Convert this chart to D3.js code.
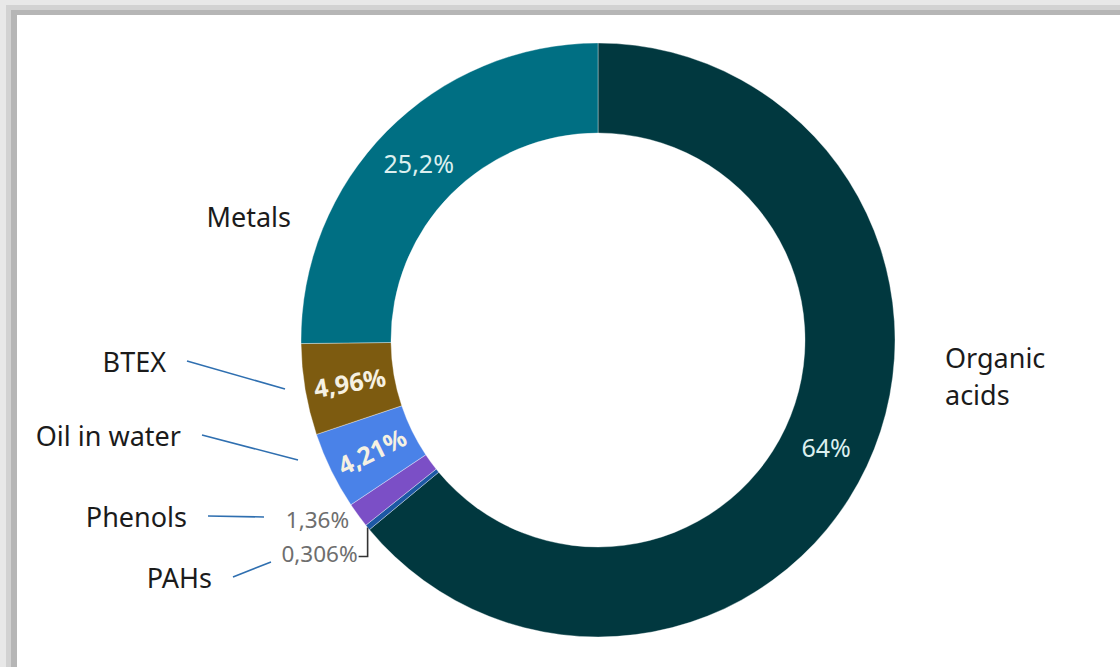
<!DOCTYPE html>
<html>
<head>
<meta charset="utf-8">
<script src="https://cdn.jsdelivr.net/npm/d3@7"></script>
<style>
  html, body { margin: 0; padding: 0; background: #e6e6e6; }
  svg { display: block; }
</style>
</head>
<body>
<svg id="chart" width="1120" height="667"></svg>
<script>
// Share of each contaminant group (%), drawn clockwise from 12 o'clock
const categories = ["Organic acids", "PAHs", "Phenols", "Oil in water", "BTEX", "Metals"];
const values = [64, 0.306, 1.36, 4.21, 4.96, 25.2];
const colors = ["#01383f", "#1c58a4", "#7b4fc6", "#4a82e8", "#7d5b10", "#006f83"];

// Placement of the category captions (text anchor, baseline) and leader endpoints
const captionLayout = {
  "Organic acids": { x: 945, y: 368, anchor: "start", lines: ["Organic", "acids"] },
  "Metals":        { x: 291, y: 227, anchor: "end" },
  "BTEX":          { x: 166, y: 372, anchor: "end", leader: [285, 389] },
  "Oil in water":  { x: 181, y: 446, anchor: "end", leader: [298, 460] },
  "Phenols":       { x: 187, y: 527, anchor: "end", leader: [264, 517] },
  "PAHs":          { x: 212, y: 588, anchor: "end", leader: [271, 562] }
};

const W = 1120, H = 667;
const cx = 598, cy = 340, rOuter = 297, rInner = 207;

const svg = d3.select("#chart");

// Frame around the white panel
svg.append("rect").attr("x", 0).attr("y", 0).attr("width", W).attr("height", H).attr("fill", "#e8e8e8");
svg.append("rect").attr("x", 6).attr("y", 5).attr("width", W).attr("height", H).attr("fill", "#d2d2d2");
svg.append("rect").attr("x", 11).attr("y", 10).attr("width", W).attr("height", H).attr("fill", "#b6b6b6");
svg.append("rect").attr("x", 17).attr("y", 15).attr("width", W).attr("height", H).attr("fill", "#ffffff");

const locale = d3.formatLocale({ decimal: ",", thousands: ".", grouping: [3], currency: ["", "€"] });
const fmt = v => locale.format(".3~r")(v) + "%";

const data = categories.map((c, i) => ({ name: c, value: values[i], color: colors[i] }));

const pie = d3.pie().sort(null).value(d => d.value).startAngle(0).endAngle(2 * Math.PI);
const arcs = pie(data);

const arc = d3.arc().innerRadius(rInner).outerRadius(rOuter);
const labelArc = d3.arc().innerRadius(252).outerRadius(252);

const g = svg.append("g").attr("transform", `translate(${cx},${cy})`);

g.selectAll("path.slice")
  .data(arcs)
  .join("path")
  .attr("class", "slice")
  .attr("d", arc)
  .attr("fill", d => d.data.color)
  .attr("stroke", "#ffffff")
  .attr("stroke-opacity", 0.45)
  .attr("stroke-width", 0.8);

const fontFamily = "'Noto Sans', 'Open Sans', sans-serif";

// Value labels inside the ring
const inside = arcs.filter(d => d.data.value >= 2);
g.selectAll("text.inner")
  .data(inside)
  .join("text")
  .attr("class", "inner")
  .attr("transform", d => {
    const [x, y] = labelArc.centroid(d);
    const mid = (d.startAngle + d.endAngle) / 2;
    const small = d.data.value < 10;
    const rot = small ? mid * 180 / Math.PI - 270 : 0;
    return `translate(${x},${y}) rotate(${rot})`;
  })
  .attr("text-anchor", "middle")
  .attr("dominant-baseline", "central")
  .attr("font-family", fontFamily)
  .attr("font-size", 25)
  .attr("font-weight", d => d.data.value < 10 ? 700 : 400)
  .attr("fill", d => d.data.value < 10 ? "#f6f1e2" : "#dcefef")
  .text(d => fmt(d.data.value));

// Value labels outside the ring for the two thinnest slices
const outer = arcs.filter(d => d.data.value < 2);
const polar = (r, a) => [r * Math.sin(a), -r * Math.cos(a)];

outer.forEach(d => {
  const mid = (d.startAngle + d.endAngle) / 2;
  const [px, py] = polar(rOuter, mid);
  if (d.data.name === "Phenols") {
    g.append("text")
      .attr("x", px - 9).attr("y", py + 13)
      .attr("text-anchor", "end")
      .attr("font-family", fontFamily)
      .attr("font-size", 22.5)
      .attr("fill", "#6e6e6e")
      .text(fmt(d.data.value));
  } else {
    g.append("polyline")
      .attr("points", [[px, py], [px, py + 29], [px - 9, py + 29]].map(p => p.join(",")).join(" "))
      .attr("fill", "none")
      .attr("stroke", "#333333")
      .attr("stroke-width", 1.6);
    g.append("text")
      .attr("x", px - 10).attr("y", py + 35)
      .attr("text-anchor", "end")
      .attr("font-family", fontFamily)
      .attr("font-size", 22.5)
      .attr("fill", "#6e6e6e")
      .text(fmt(d.data.value));
  }
});

// Category captions with leader lines
arcs.forEach(d => {
  const L = captionLayout[d.data.name];
  const t = svg.append("text")
    .attr("x", L.x).attr("y", L.y)
    .attr("text-anchor", L.anchor)
    .attr("font-family", fontFamily)
    .attr("font-size", 27)
    .attr("fill", "#1b1b1b");
  if (L.lines) {
    L.lines.forEach((s, i) => t.append("tspan").attr("x", L.x).attr("dy", i === 0 ? 0 : 37).text(s));
  } else {
    t.text(d.data.name);
  }
  if (L.leader) {
    const [ex, ey] = L.leader;
    svg.append("line")
      .attr("x1", L.x + 21).attr("y1", L.y - 11)
      .attr("x2", ex).attr("y2", ey)
      .attr("stroke", "#2f6fb0")
      .attr("stroke-width", 1.6);
  }
});
</script>
</body>
</html>
